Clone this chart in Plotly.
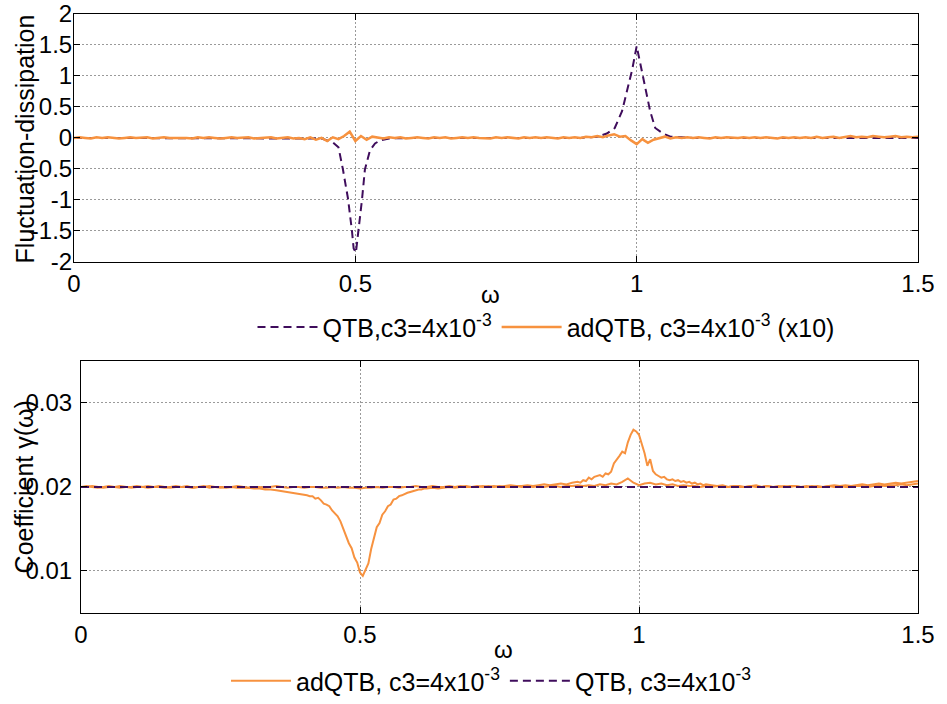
import plotly.graph_objects as go

# ---------------- data ----------------
# Top panel: fluctuation-dissipation, QTB (dashed)
omega_qtb_top = [0.00, 0.40, 0.44, 0.460, 0.470, 0.478, 0.487, 0.494, 0.497, 0.501,
                 0.505, 0.512, 0.517, 0.526, 0.535, 0.544, 0.56, 0.60, 0.90, 0.93,
                 0.947, 0.961, 0.974, 0.983, 0.992, 1.000, 1.009, 1.017, 1.024, 1.033,
                 1.047, 1.06, 1.10, 1.50]
fd_qtb = [0.00, 0.00, -0.01, -0.07, -0.15, -0.51, -0.98, -1.50, -1.78, -1.85,
          -1.56, -0.98, -0.51, -0.20, -0.09, -0.04, -0.01, 0.00, 0.00, 0.02,
          0.07, 0.16, 0.43, 0.75, 1.10, 1.48, 1.10, 0.75, 0.43, 0.16,
          0.07, 0.02, 0.00, 0.00]

# Top panel: adQTB (x10), omega 0.00 .. 1.50 step 0.01
omega_top_ad = [round(i * 0.01, 2) for i in range(151)]
fd_adqtb_x10 = [
    0.00, 0.01, 0.00, -0.01, 0.01, 0.00, 0.01, 0.00, -0.01, 0.00,
    0.01, 0.00, 0.00, 0.01, -0.01, 0.00, 0.01, 0.00, 0.00, 0.01,
    0.00, -0.01, 0.01, 0.00, 0.01, 0.00, -0.01, 0.00, 0.01, 0.00,
    0.00, 0.01, -0.01, 0.00, 0.00, 0.01, -0.01, 0.00, 0.01, -0.01,
    0.00, -0.02, 0.01, -0.03, 0.00, -0.05, 0.01, -0.02, 0.03, 0.10,
    -0.05, 0.03, -0.03, 0.02, 0.00, -0.01, 0.01, 0.00, 0.01, -0.01,
    0.00, 0.01, 0.00, -0.01, 0.01, 0.00, 0.01, -0.01, 0.00, 0.01,
    0.00, 0.01, 0.00, 0.00, -0.01, 0.01, 0.00, 0.01, 0.00, -0.01,
    0.01, 0.00, 0.01, 0.00, 0.01, 0.00, -0.01, 0.01, 0.00, 0.01,
    0.00, 0.02, 0.01, 0.03, 0.01, 0.04, 0.06, 0.02, 0.03, -0.04,
    -0.10, -0.02, -0.08, -0.03, 0.00, 0.02, -0.01, 0.01, 0.00, 0.01,
    0.00, 0.01, 0.00, -0.01, 0.01, 0.00, 0.01, 0.00, 0.00, 0.01,
    0.00, 0.01, 0.00, 0.01, 0.00, -0.01, 0.01, 0.00, 0.01, 0.00,
    0.01, 0.00, 0.02, 0.00, 0.01, 0.02, 0.00, 0.01, 0.03, 0.01,
    0.02, 0.01, 0.03, 0.02, 0.01, 0.02, 0.03, 0.01, 0.02, 0.01,
    0.02]

# Bottom panel: gamma(omega), adQTB curve with features
omega_gam_a = ([round(i * 0.01, 3) for i in range(0, 38)] +
               [round(0.38 + i * 0.005, 3) for i in range(49)] +
               [round(0.63 + i * 0.01, 3) for i in range(26)] +
               [round(0.89 + i * 0.005, 3) for i in range(47)] +
               [round(1.13 + i * 0.01, 3) for i in range(38)])
gamma_adqtb_a = [
    # 0.00 - 0.37
    0.0200, 0.0201, 0.0200, 0.0199, 0.0200, 0.0201, 0.0200, 0.0199, 0.0200, 0.0200,
    0.0201, 0.0200, 0.0199, 0.0200, 0.0201, 0.0200, 0.0199, 0.0200, 0.0200, 0.0201,
    0.0199, 0.0200, 0.0201, 0.0199, 0.0200, 0.0200, 0.0199, 0.0200, 0.0199, 0.0199,
    0.0199, 0.0198, 0.0198, 0.0197, 0.0197, 0.0196, 0.0195, 0.0194,
    # 0.380 - 0.620
    0.0193, 0.0192, 0.0192, 0.0191, 0.0191, 0.0190, 0.0189, 0.0189, 0.0186, 0.0187,
    0.0184, 0.0180, 0.0179, 0.0177, 0.0172, 0.0168, 0.0165, 0.0159, 0.0150, 0.0142,
    0.0133, 0.0127, 0.0116, 0.0110, 0.0098, 0.0094, 0.0101, 0.0109, 0.0126, 0.0139,
    0.0152, 0.0157, 0.0167, 0.0171, 0.0177, 0.0179, 0.0185, 0.0186, 0.0189, 0.0190,
    0.0192, 0.0193, 0.0194, 0.0195, 0.0196, 0.0197, 0.0197, 0.0198, 0.0198,
    # 0.63 - 0.88
    0.0199, 0.0198, 0.0199, 0.0200, 0.0199, 0.0200, 0.0201, 0.0200, 0.0200, 0.0201,
    0.0200, 0.0201, 0.0200, 0.0201, 0.0202, 0.0201, 0.0201, 0.0202, 0.0201, 0.0202,
    0.0203, 0.0202, 0.0203, 0.0204, 0.0203, 0.0205,
    # 0.890 - 1.120
    0.0206, 0.0205, 0.0208, 0.0207, 0.0211, 0.0209, 0.0212, 0.0213, 0.0214, 0.0212,
    0.0216, 0.0215, 0.0218, 0.0228, 0.0232, 0.0237, 0.0242, 0.0240, 0.0253, 0.0262,
    0.0268, 0.0266, 0.0262, 0.0252, 0.0240, 0.0225, 0.0233, 0.0219, 0.0215, 0.0213,
    0.0211, 0.0212, 0.0209, 0.0208, 0.0209, 0.0207, 0.0208, 0.0206, 0.0207, 0.0205,
    0.0206, 0.0204, 0.0205, 0.0203, 0.0204, 0.0202, 0.0203,
    # 1.13 - 1.50
    0.0202, 0.0201, 0.0202, 0.0200, 0.0201, 0.0201, 0.0200, 0.0201, 0.0202, 0.0200,
    0.0201, 0.0200, 0.0201, 0.0200, 0.0201, 0.0201, 0.0200, 0.0201, 0.0200, 0.0201,
    0.0200, 0.0201, 0.0202, 0.0201, 0.0202, 0.0201, 0.0202, 0.0203, 0.0202, 0.0203,
    0.0204, 0.0203, 0.0204, 0.0205, 0.0204, 0.0205, 0.0206, 0.0207]

# Bottom panel: gamma(omega), second (nearly flat) adQTB curve, step 0.01
omega_gam_b = [round(i * 0.01, 2) for i in range(151)]
gamma_adqtb_b = [
    0.0200, 0.0200, 0.0201, 0.0200, 0.0199, 0.0200, 0.0200, 0.0201, 0.0200, 0.0199,
    0.0200, 0.0200, 0.0201, 0.0200, 0.0200, 0.0199, 0.0200, 0.0201, 0.0200, 0.0200,
    0.0199, 0.0200, 0.0200, 0.0201, 0.0200, 0.0199, 0.0200, 0.0200, 0.0201, 0.0200,
    0.0199, 0.0200, 0.0200, 0.0199, 0.0200, 0.0201, 0.0200, 0.0199, 0.0200, 0.0200,
    0.0199, 0.0200, 0.0200, 0.0199, 0.0199, 0.0200, 0.0199, 0.0200, 0.0199, 0.0199,
    0.0198, 0.0199, 0.0199, 0.0200, 0.0199, 0.0200, 0.0200, 0.0199, 0.0200, 0.0200,
    0.0201, 0.0200, 0.0200, 0.0201, 0.0200, 0.0200, 0.0201, 0.0200, 0.0201, 0.0200,
    0.0200, 0.0201, 0.0200, 0.0201, 0.0200, 0.0201, 0.0200, 0.0200, 0.0201, 0.0200,
    0.0201, 0.0200, 0.0201, 0.0200, 0.0201, 0.0201, 0.0200, 0.0201, 0.0201, 0.0202,
    0.0201, 0.0202, 0.0201, 0.0203, 0.0202, 0.0204, 0.0203, 0.0206, 0.0210, 0.0205,
    0.0202, 0.0204, 0.0205, 0.0203, 0.0204, 0.0202, 0.0203, 0.0201, 0.0202, 0.0201,
    0.0201, 0.0200, 0.0201, 0.0200, 0.0201, 0.0200, 0.0200, 0.0201, 0.0200, 0.0200,
    0.0201, 0.0200, 0.0200, 0.0201, 0.0200, 0.0200, 0.0201, 0.0200, 0.0201, 0.0200,
    0.0200, 0.0201, 0.0200, 0.0200, 0.0201, 0.0200, 0.0201, 0.0200, 0.0200, 0.0201,
    0.0201, 0.0200, 0.0201, 0.0202, 0.0201, 0.0202, 0.0202, 0.0203, 0.0202, 0.0203,
    0.0204]

# Bottom panel: QTB gamma (constant)
omega_gam_qtb = [0.0, 1.5]
gamma_qtb = [0.02, 0.02]

# tick labels
x_ticks = [0, 0.5, 1, 1.5]
x_ticktext = ["0", "0.5", "1", "1.5"]
y1_ticks = [-2, -1.5, -1, -0.5, 0, 0.5, 1, 1.5, 2]
y1_ticktext = ["-2", "-1.5", "-1", "-0.5", "0", "0.5", "1", "1.5", "2"]
y2_ticks = [0.01, 0.02, 0.03]
y2_ticktext = ["0.01", "0.02", "0.03"]

# ---------------- styling ----------------
ORANGE = "#f7923f"
PURPLE = "#3f0d5c"
FONT = "Liberation Sans, Arial, sans-serif"
FS = 24
FL = 25
GRID = "#9a9a9a"

fig = go.Figure()

fig.add_trace(go.Scatter(
    x=omega_qtb_top, y=fd_qtb, mode="lines", xaxis="x", yaxis="y",
    name="QTB,c3=4x10<sup>-3</sup>", legend="legend",
    line=dict(color=PURPLE, width=2, dash="8px,5px")))
fig.add_trace(go.Scatter(
    x=omega_top_ad, y=fd_adqtb_x10, mode="lines", xaxis="x", yaxis="y",
    name="adQTB, c3=4x10<sup>-3</sup> (x10)", legend="legend",
    line=dict(color=ORANGE, width=2.5)))

fig.add_trace(go.Scatter(
    x=omega_gam_a, y=gamma_adqtb_a, mode="lines", xaxis="x2", yaxis="y2",
    name="adQTB, c3=4x10<sup>-3</sup>", legend="legend2", legendgroup="ad",
    line=dict(color=ORANGE, width=2)))
fig.add_trace(go.Scatter(
    x=omega_gam_b, y=gamma_adqtb_b, mode="lines", xaxis="x2", yaxis="y2",
    name="adQTB, c3=4x10<sup>-3</sup>", legend="legend2", legendgroup="ad",
    showlegend=False, line=dict(color=ORANGE, width=2)))
fig.add_trace(go.Scatter(
    x=omega_gam_qtb, y=gamma_qtb, mode="lines", xaxis="x2", yaxis="y2",
    name="QTB, c3=4x10<sup>-3</sup>", legend="legend2",
    line=dict(color=PURPLE, width=2, dash="8px,5px")))

W, H = 947, 704

def px_x(p):
    return p / W

def px_y(p):
    return 1 - p / H

common_axis = dict(
    showline=True, linecolor="black", linewidth=1, mirror="ticks",
    ticks="inside", ticklen=6, tickcolor="black", automargin=False,
    ticklabeloverflow="allow",
    showgrid=True, gridcolor=GRID, gridwidth=1, griddash="2px,2px",
    zeroline=False, tickfont=dict(family=FONT, size=FS, color="black"),
)

fig.update_layout(
    width=W, height=H,
    margin=dict(l=0, r=0, t=0, b=0),
    paper_bgcolor="white", plot_bgcolor="white",
    font=dict(family=FONT, size=FS, color="black"),
    xaxis=dict(domain=[px_x(74), px_x(918)], range=[0, 1.5], anchor="y",
               tickvals=x_ticks, ticktext=x_ticktext, **common_axis),
    yaxis=dict(domain=[px_y(265), px_y(14)], range=[-2, 2], anchor="x",
               tickvals=y1_ticks, ticktext=y1_ticktext, ticklabelstandoff=-4,
               **common_axis),
    xaxis2=dict(domain=[px_x(81), px_x(918)], range=[0, 1.5], anchor="y2",
                tickvals=x_ticks, ticktext=x_ticktext, **common_axis),
    yaxis2=dict(domain=[px_y(620), px_y(365)], range=[0.005, 0.035], anchor="x2",
                tickvals=y2_ticks, ticktext=y2_ticktext, ticklabelstandoff=3,
                **common_axis),
    legend=dict(orientation="h", x=px_x(546), xanchor="center", y=px_y(331), yanchor="middle",
                bgcolor="rgba(0,0,0,0)", font=dict(family=FONT, size=FL),
                itemwidth=60),
    legend2=dict(orientation="h", x=px_x(491), xanchor="center", y=px_y(689), yanchor="middle",
                 bgcolor="rgba(0,0,0,0)", font=dict(family=FONT, size=FL),
                 itemwidth=60),
    annotations=[
        dict(text="Fluctuation-dissipation", textangle=-90, xref="paper", yref="paper",
             x=px_x(25), y=px_y(141), xanchor="center", yanchor="middle",
             showarrow=False, font=dict(family=FONT, size=FL, color="black")),
        dict(text="Coefficient γ(ω)", textangle=-90, xref="paper", yref="paper",
             x=px_x(24), y=px_y(493), xanchor="center", yanchor="middle",
             showarrow=False, font=dict(family=FONT, size=FL, color="black")),
        dict(text="ω", xref="paper", yref="paper",
             x=px_x(490), y=px_y(298), xanchor="center", yanchor="middle",
             showarrow=False, font=dict(family=FONT, size=FS, color="black")),
        dict(text="ω", xref="paper", yref="paper",
             x=px_x(503), y=px_y(657), xanchor="center", yanchor="middle",
             showarrow=False, font=dict(family=FONT, size=FS, color="black")),
    ],
)

fig.write_html("out.html", config={"displayModeBar": False},
               post_script="document.body.style.margin='0';")
